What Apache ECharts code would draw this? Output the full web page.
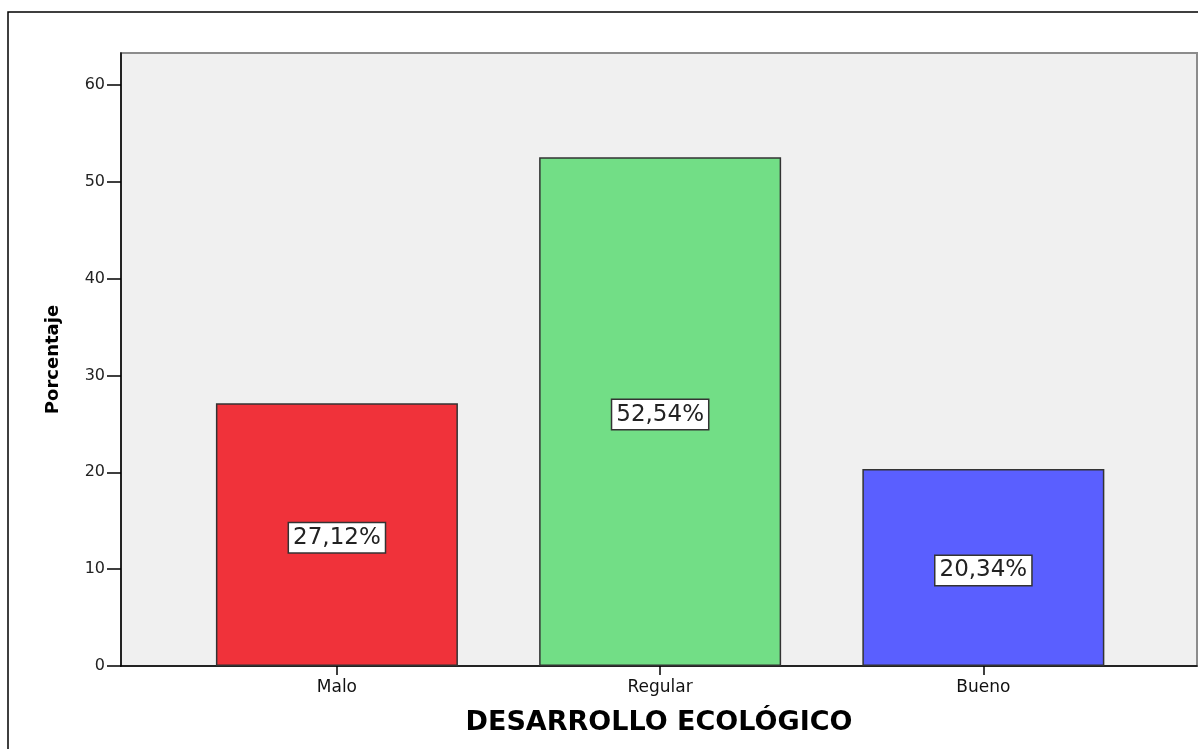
<!DOCTYPE html>
<html>
<head>
<meta charset="utf-8">
<script src="https://cdn.jsdelivr.net/npm/echarts@6/dist/echarts.min.js"></script>
<style>
html,body{margin:0;padding:0;background:#fff;}
#chart{width:1198px;height:749px;}
</style>
</head>
<body>
<div id="chart"></div>
<script>
const categories = ['Malo', 'Regular', 'Bueno'];
const percentages = [27.12, 52.54, 20.34];
const barColors = ['#f0323a', '#72de86', '#5a5fff'];
const yTicks = [0, 10, 20, 30, 40, 50, 60];
const xTicks = [0, 1, 2];
const xTitle = 'DESARROLLO ECOLÓGICO';
const yTitle = 'Porcentaje';

const chart = echarts.init(document.getElementById('chart'));
const font = 'DejaVu Sans';

chart.setOption({
  animation: false,
  textStyle: { fontFamily: font },
  graphic: [{
    type: 'rect',
    shape: { x: 8, y: 12, width: 1200, height: 800 },
    style: { fill: 'none', stroke: '#000', lineWidth: 1.5 },
    silent: true
  }],
  grid: {
    left: 121, top: 53, right: 1, bottom: 83,
    show: true,
    backgroundColor: '#f0f0f0',
    borderColor: '#8c8c8c',
    borderWidth: 2
  },
  xAxis: {
    type: 'value',
    min: -0.668,
    max: 2.661,
    splitLine: { show: false },
    axisLine: { show: true, onZero: false, lineStyle: { color: '#000', width: 1.5 } },
    axisTick: { show: true, customValues: xTicks, length: 9, lineStyle: { color: '#000', width: 1.5 } },
    axisLabel: {
      customValues: xTicks,
      margin: 13,
      fontSize: 17,
      color: '#111',
      fontFamily: font,
      formatter: v => categories[Math.round(v)] || ''
    },
    name: xTitle,
    nameLocation: 'middle',
    nameGap: 43,
    nameTextStyle: { fontSize: 27, fontWeight: 'bold', color: '#000', fontFamily: font }
  },
  yAxis: {
    type: 'value',
    min: 0,
    max: 63.3,
    splitLine: { show: false },
    axisLine: { show: true, onZero: false, lineStyle: { color: '#000', width: 1.5 } },
    axisTick: { show: true, customValues: yTicks, length: 14, lineStyle: { color: '#000', width: 1.5 } },
    axisLabel: {
      customValues: yTicks,
      margin: 16,
      fontSize: 16,
      color: '#222',
      fontFamily: font
    },
    name: yTitle,
    nameLocation: 'middle',
    nameRotate: 90,
    nameGap: 59,
    nameTextStyle: { fontSize: 18, fontWeight: 'bold', color: '#000', fontFamily: font }
  },
  series: [{
    type: 'bar',
    barWidth: 242,
    data: categories.map((c, i) => ({
      value: [xTicks[i], percentages[i]],
      itemStyle: { color: barColors[i] }
    })),
    itemStyle: { borderColor: '#333', borderWidth: 1.5 },
    label: {
      show: true,
      position: 'inside',
      offset: [0, 3],
      formatter: p => p.value[1].toFixed(2).replace('.', ',') + '%',
      fontSize: 23,
      fontFamily: font,
      color: '#222',
      backgroundColor: '#fff',
      borderColor: '#333',
      borderWidth: 1.5,
      padding: [4, 4, 2, 4]
    }
  }]
});
</script>
</body>
</html>
